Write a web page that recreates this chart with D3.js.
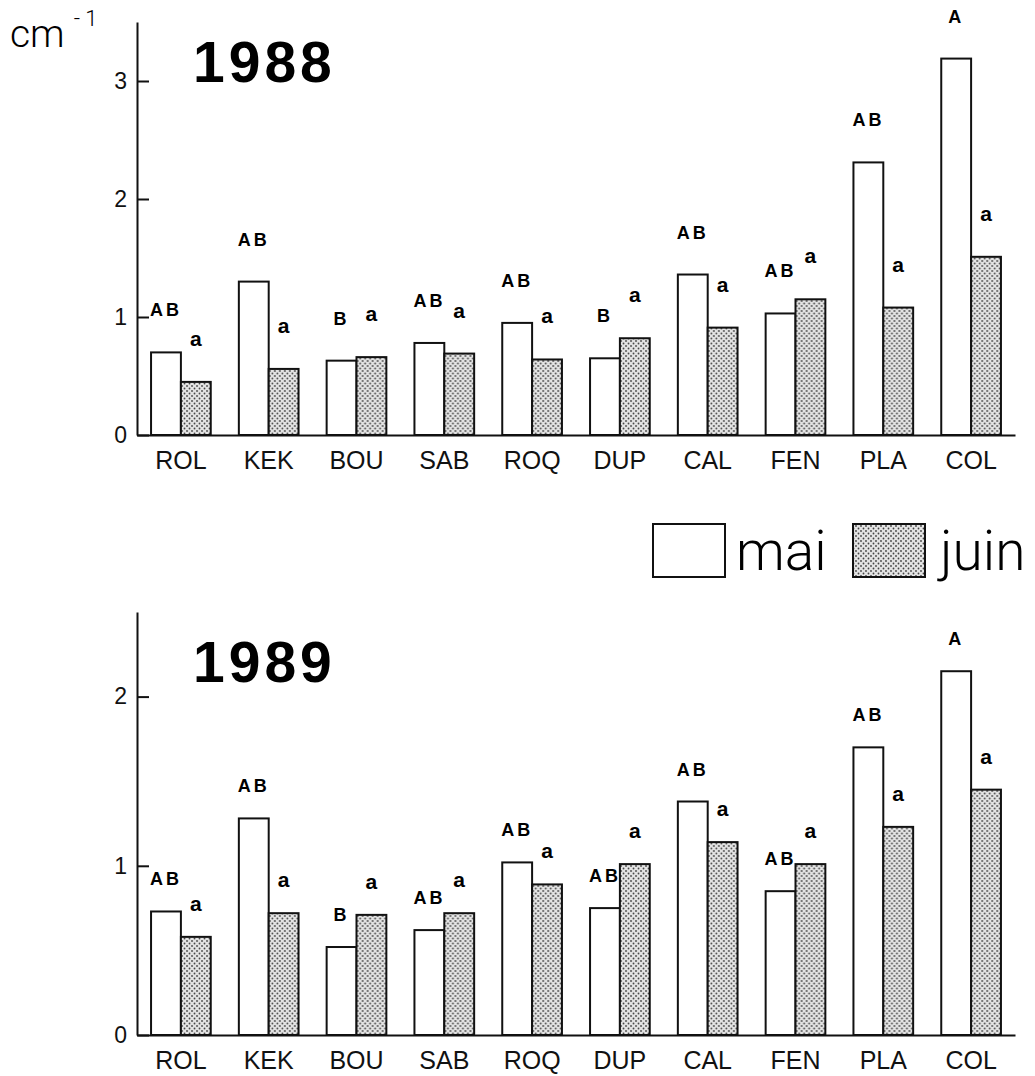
<!DOCTYPE html>
<html>
<head>
<meta charset="utf-8">
<script src="https://cdn.jsdelivr.net/npm/d3@7"></script>
<style>
  body { margin: 0; background: #fff; }
  svg { display: block; }
  .tick text { font-family: "Liberation Sans", Arial, sans-serif; }
</style>
</head>
<body>
<div id="chart"></div>
<script>
// sites, same order in both years
var sites = ["ROL", "KEK", "BOU", "SAB", "ROQ", "DUP", "CAL", "FEN", "PLA", "COL"];
var months = ["mai", "juin"];

// 1988 values (cm-1)
var mai1988  = [0.70, 1.30, 0.63, 0.78, 0.95, 0.65, 1.36, 1.03, 2.31, 3.19];
var juin1988 = [0.45, 0.56, 0.66, 0.69, 0.64, 0.82, 0.91, 1.15, 1.08, 1.51];
var letMai1988  = ["AB", "AB", "B", "AB", "AB", "B", "AB", "AB", "AB", "A"];
var letJuin1988 = ["a", "a", "a", "a", "a", "a", "a", "a", "a", "a"];

// 1989 values
var mai1989  = [0.73, 1.28, 0.52, 0.62, 1.02, 0.75, 1.38, 0.85, 1.70, 2.15];
var juin1989 = [0.58, 0.72, 0.71, 0.72, 0.89, 1.01, 1.14, 1.01, 1.23, 1.45];
var letMai1989  = ["AB", "AB", "B", "AB", "AB", "AB", "AB", "AB", "AB", "A"];
var letJuin1989 = ["a", "a", "a", "a", "a", "a", "a", "a", "a", "a"];

var ticks1988 = [0, 1, 2, 3];
var ticks1989 = [0, 1, 2];

var svg = d3.select("#chart").append("svg")
    .attr("width", 1035)
    .attr("height", 1076);

// dotted fill for juin
var pat = svg.append("defs").append("pattern")
    .attr("id", "dots")
    .attr("patternUnits", "userSpaceOnUse")
    .attr("width", 5).attr("height", 5);
pat.append("rect").attr("width", 5).attr("height", 5).attr("fill", "#e4e4e4");
pat.append("circle").attr("cx", 1).attr("cy", 1).attr("r", 0.9).attr("fill", "#444");
pat.append("circle").attr("cx", 3.5).attr("cy", 3.5).attr("r", 0.9).attr("fill", "#444");

var fill = { mai: "#fff", juin: "url(#dots)" };

var x0 = d3.scaleBand().domain(sites).range([137, 1015]).paddingInner(0.32).paddingOuter(0.16);
var x1 = d3.scaleBand().domain(months).range([0, x0.bandwidth()]);

var drawPanel = function(title, mai, juin, letMai, letJuin, yMax, yTop, yBottom, ticks, titleY, letOffset) {
    var y = d3.scaleLinear().domain([0, yMax]).range([yBottom, yTop]);
    var g = svg.append("g");

    var rows = sites.map(function(s, i) {
        return { site: s, vals: [
            { m: "mai", v: mai[i], l: letMai[i] },
            { m: "juin", v: juin[i], l: letJuin[i] }
        ]};
    });

    var groups = g.selectAll(".grp")
      .data(rows)
      .enter()
      .append("g")
        .attr("transform", function(d) { return "translate(" + x0(d.site) + ",0)"; });

    groups.selectAll("rect")
      .data(function(d) { return d.vals; })
      .enter()
      .append("rect")
        .attr("x", function(d) { return x1(d.m); })
        .attr("y", function(d) { return y(d.v); })
        .attr("width", x1.bandwidth())
        .attr("height", function(d) { return y(0) - y(d.v); })
        .attr("fill", function(d) { return fill[d.m]; })
        .attr("stroke", "#111")
        .attr("stroke-width", 2);

    // significance letters above each bar
    groups.selectAll("text")
      .data(function(d) { return d.vals; })
      .enter()
      .append("text")
        .attr("x", function(d) { return x1(d.m) + x1.bandwidth() / 2; })
        .attr("y", function(d) { return y(d.v) - letOffset; })
        .attr("text-anchor", "middle")
        .style("font-family", "Liberation Sans, Arial, sans-serif")
        .style("font-weight", "bold")
        .style("font-size", function(d) { return d.m == "mai" ? "18px" : "21px"; })
        .style("letter-spacing", function(d) { return d.m == "mai" ? "3px" : "0px"; })
        .text(function(d) { return d.l; });

    // y axis, ticks pointing inward
    var yAxis = g.append("g")
        .attr("transform", "translate(137,0)")
        .call(d3.axisLeft(y).tickValues(ticks).tickFormat(d3.format("d"))
            .tickSizeInner(-12).tickSizeOuter(0).tickPadding(10));
    yAxis.selectAll("path, line").attr("stroke", "#111").attr("stroke-width", 2);
    yAxis.selectAll("text").style("font-size", "23px").attr("fill", "#111");

    // x axis
    var xAxis = g.append("g")
        .attr("transform", "translate(0," + y(0) + ")")
        .call(d3.axisBottom(x0).tickSize(0).tickPadding(16));
    xAxis.select(".domain").attr("stroke", "#111").attr("stroke-width", 2);
    xAxis.selectAll("text").style("font-size", "25px").attr("fill", "#111");

    g.append("text")
        .attr("x", 193)
        .attr("y", titleY)
        .style("font-family", "Liberation Sans, Arial, sans-serif")
        .style("font-weight", "bold")
        .style("font-size", "57px")
        .style("letter-spacing", "4px")
        .text(title);
};

drawPanel("1988", mai1988, juin1988, letMai1988, letJuin1988, 3.5, 22, 435, ticks1988, 82, 36);
drawPanel("1989", mai1989, juin1989, letMai1989, letJuin1989, 2.5, 612, 1035, ticks1989, 682, 26);

// unit label
var unit = svg.append("text")
    .attr("x", 10)
    .attr("y", 47)
    .style("font-family", "Roboto, sans-serif")
    .style("font-weight", "300")
    .style("font-size", "39px");
unit.append("tspan").text("cm");
unit.append("tspan").attr("dx", 9).attr("dy", -21).style("font-size", "22px").text("- 1");

// legend
var legend = svg.append("g");
legend.selectAll("rect")
  .data(months)
  .enter()
  .append("rect")
    .attr("x", function(d, i) { return 653 + i * 200; })
    .attr("y", 524)
    .attr("width", 72)
    .attr("height", 53)
    .attr("fill", function(d) { return fill[d]; })
    .attr("stroke", "#111")
    .attr("stroke-width", 2);
legend.selectAll("text")
  .data(months)
  .enter()
  .append("text")
    .attr("x", function(d, i) { return 736 + i * 204; })
    .attr("y", 570)
    .style("font-family", "Roboto, sans-serif")
    .style("font-weight", "300")
    .style("font-size", "55px")
    .text(function(d) { return d; });
</script>
</body>
</html>
